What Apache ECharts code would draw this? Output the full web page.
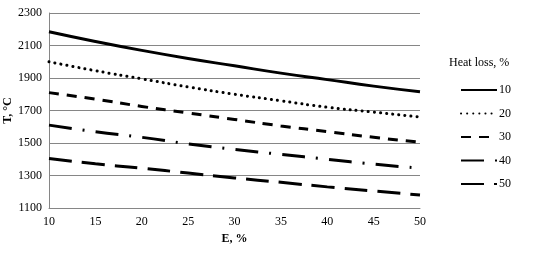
<!DOCTYPE html>
<html><head><meta charset="utf-8">
<script src="https://cdn.jsdelivr.net/npm/echarts@6/dist/echarts.min.js"></script>
<style>html,body{margin:0;padding:0;background:#fff}#c{width:533px;height:256px}</style>
</head><body><div id="c"></div>
<script>
const E = [10,15,20,25,30,35,40,45,50];
const s10 = [2185,2125,2070,2020,1975,1930,1890,1850,1815];
const s20 = [2000,1945,1895,1845,1800,1760,1720,1690,1660];
const s30 = [1810,1770,1725,1685,1645,1605,1570,1535,1505];
const s40 = [1610,1570,1535,1495,1460,1430,1400,1370,1345];
const s50 = [1405,1372,1345,1315,1285,1258,1230,1205,1180];
const names = ['10','20','30','40','50'];
const xTicks = [10,15,20,25,30,35,40,45,50];
const yTicks = [1100,1300,1500,1700,1900,2100,2300];

const F = '"Liberation Serif","Times New Roman",serif';
const styles = [
  {type:'solid', cap:'butt'},
  {type:[0.1,6], cap:'round'},
  {type:[10,8], cap:'butt'},
  {type:[23,11,2,11], cap:'butt'},
  {type:[23,10], cap:'butt'}
];
const all = [s10,s20,s30,s40,s50];
const series = all.map((d,i)=>({
  name: names[i], type:'line', symbol:'none', smooth:true,
  data: E.map((e,j)=>[e,d[j]]),
  lineStyle:{color:'#000', width:3, type:styles[i].type, cap:styles[i].cap},
  itemStyle:{color:'#000', opacity:0}
}));
const chart = echarts.init(document.getElementById('c'), null, {renderer:'canvas'});
chart.setOption({
  animation:false,
  backgroundColor:'#fff',
  title:{text:'Heat loss, %', left:444, top:52, textStyle:{fontFamily:F, fontSize:12, fontWeight:'normal', color:'#000'}},
  legend:{orient:'vertical', left:455, top:79, itemWidth:36, itemHeight:10, itemGap:11.5,
    itemStyle:{opacity:0},
    textStyle:{fontFamily:F, fontSize:12, color:'#000', padding:[0,0,0,-3]},
    data:names},
  grid:{left:49, right:113, top:13, bottom:48, containLabel:false, outerBoundsMode:'none'},
  xAxis:{type:'value', min:xTicks[0], max:xTicks[xTicks.length-1], interval:5,
    name:'E, %', nameLocation:'middle', nameGap:24,
    nameTextStyle:{fontFamily:F, fontSize:12, fontWeight:'bold', color:'#000'},
    axisLine:{lineStyle:{color:'#868686'}}, axisTick:{show:false},
    axisLabel:{fontFamily:F, fontSize:12, color:'#000', margin:8, formatter:v=>String(v)},
    splitLine:{show:false}},
  yAxis:{type:'value', min:yTicks[0], max:yTicks[yTicks.length-1], interval:200,
    name:'T, °C', nameLocation:'middle', nameGap:35, nameRotate:90, nameMoveOverlap:false,
    nameTextStyle:{fontFamily:F, fontSize:12, fontWeight:'bold', color:'#000'},
    axisLine:{show:true, lineStyle:{color:'#868686'}}, axisTick:{show:false},
    axisLabel:{fontFamily:F, fontSize:12, color:'#000', margin:7, formatter:v=>String(v)},
    splitLine:{lineStyle:{color:'#868686', width:1}}},
  series: series
});
</script></body></html>
